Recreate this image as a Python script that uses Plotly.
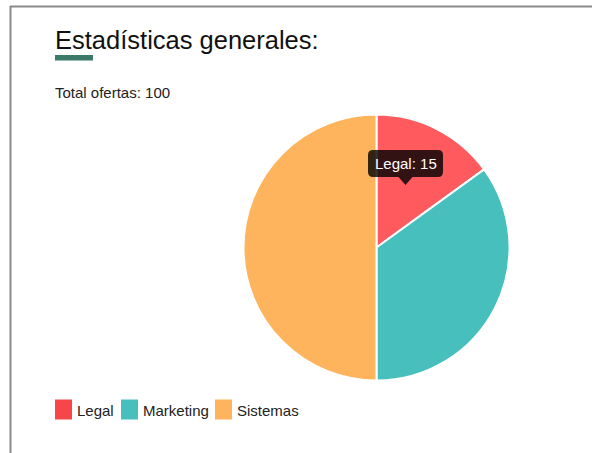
import plotly.graph_objects as go

categories = ["Legal", "Marketing", "Sistemas"]
values = [15, 35, 50]
slice_colors = ["#FF5A5E", "#46BFBD", "#FDB45C"]
legend_colors = ["#F7464A", "#46BFBD", "#FDB45C"]
title_text = "Estadísticas generales:"
total_text = "Total ofertas: " + str(sum(values))
tooltip_index = 0

W, H = 592, 453
def px(x):
    return x / W
def py(y):
    return 1 - y / H

cx, cy, r = 376.5, 247.5, 133
fig = go.Figure(go.Pie(
    labels=categories, values=values, sort=False, direction="clockwise",
    rotation=0, textinfo="none", hoverinfo="skip", showlegend=False,
    marker=dict(colors=slice_colors, line=dict(color="white", width=2)),
    domain=dict(x=[px(cx - r), px(cx + r)], y=[py(cy + r), py(cy - r)]),
))

shapes = []
# border lines
shapes.append(dict(type="line", xref="paper", yref="paper", x0=px(10), x1=1.0,
                   y0=py(6.5), y1=py(6.5), line=dict(color="#8a8a8a", width=2)))
shapes.append(dict(type="line", xref="paper", yref="paper", x0=px(10.5), x1=px(10.5),
                   y0=py(6), y1=0, line=dict(color="#8a8a8a", width=2)))
# title underline
shapes.append(dict(type="rect", xref="paper", yref="paper", x0=px(55), x1=px(93),
                   y0=py(60.5), y1=py(55), line=dict(width=0), fillcolor="#3B7A69"))

annotations = [
    dict(text=title_text, x=px(53), y=py(39.5), xref="paper", yref="paper",
         xanchor="left", yanchor="middle", showarrow=False,
         font=dict(family="Liberation Sans, Arial", size=25.5, color="#111111")),
    dict(text=total_text, x=px(53), y=py(92), xref="paper", yref="paper",
         xanchor="left", yanchor="middle", showarrow=False,
         font=dict(family="Liberation Sans, Arial", size=15, color="#222222")),
]

# legend
lx = [55, 121, 215]
tx = [77, 143, 237]
for i, cat in enumerate(categories):
    shapes.append(dict(type="rect", xref="paper", yref="paper", x0=px(lx[i]), x1=px(lx[i] + 17),
                       y0=py(419.5), y1=py(399.5), line=dict(width=0),
                       fillcolor=legend_colors[i]))
    annotations.append(dict(text=cat, x=px(tx[i] - 2), y=py(410), xref="paper", yref="paper",
                            xanchor="left", yanchor="middle", showarrow=False,
                            font=dict(family="Liberation Sans, Arial", size=15, color="#222222")))

# tooltip
bx0, bx1, by0, by1, rad = 368, 443, 150, 177, 5
tipx, tipy, hw = 405.5, 185, 7
def P(x, y):
    return f"{px(x)},{py(y)}"
path = (f"M {P(bx0 + rad, by0)} L {P(bx1 - rad, by0)} Q {P(bx1, by0)} {P(bx1, by0 + rad)} "
        f"L {P(bx1, by1 - rad)} Q {P(bx1, by1)} {P(bx1 - rad, by1)} "
        f"L {P(tipx + hw, by1)} L {P(tipx, tipy)} L {P(tipx - hw, by1)} "
        f"L {P(bx0 + rad, by1)} Q {P(bx0, by1)} {P(bx0, by1 - rad)} "
        f"L {P(bx0, by0 + rad)} Q {P(bx0, by0)} {P(bx0 + rad, by0)} Z")
shapes.append(dict(type="path", xref="paper", yref="paper", path=path, layer="above",
                   fillcolor="rgba(0,0,0,0.8)", line=dict(width=0)))
annotations.append(dict(text=f"{categories[tooltip_index]}: {values[tooltip_index]}",
                        x=px((bx0 + bx1) / 2), y=py((by0 + by1) / 2), xref="paper", yref="paper",
                        xanchor="center", yanchor="middle", showarrow=False,
                        font=dict(family="Liberation Sans, Arial", size=15, color="white")))

fig.update_layout(width=W, height=H, autosize=False, margin=dict(l=0, r=0, t=0, b=0),
                  paper_bgcolor="white", plot_bgcolor="white",
                  shapes=shapes, annotations=annotations)
fig.write_html("out.html", config={"displayModeBar": False})
